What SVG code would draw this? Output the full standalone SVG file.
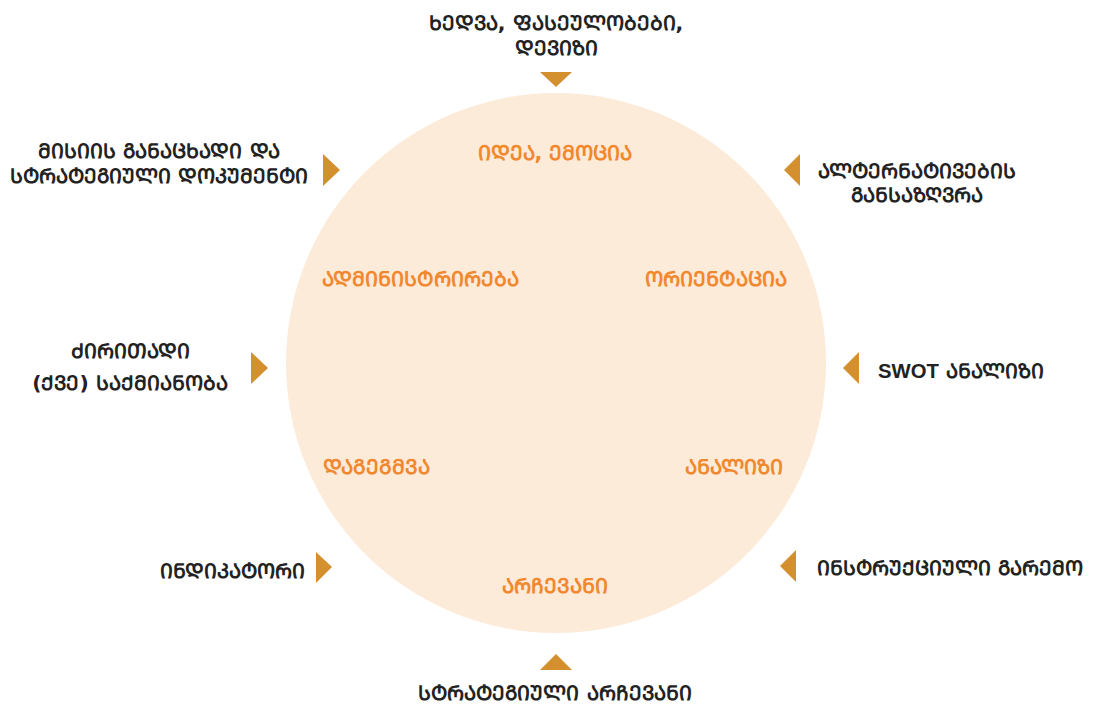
<svg xmlns="http://www.w3.org/2000/svg" width="1093" height="708" viewBox="0 0 1093 708">
<style>
.o{font-family:"DejaVu Sans",sans-serif;font-size:20.3px;font-weight:bold;fill:#222;text-anchor:middle}
.i{font-family:"DejaVu Sans",sans-serif;font-size:20.5px;font-weight:bold;fill:#F2882E;text-anchor:middle}
.t{fill:#D48F2E}
</style>
<rect width="1093" height="708" fill="#fff"/>
<circle id="circle" cx="556" cy="363" r="270" fill="#FDEBDA"/>
<g id="inner">
<text class="i" x="555" y="160">ᲘᲓᲔᲐ, ᲔᲛᲝᲪᲘᲐ</text>
<text class="i" x="420" y="286">ᲐᲓᲛᲘᲜᲘᲡᲢᲠᲘᲠᲔᲑᲐ</text>
<text class="i" x="716" y="286">ᲝᲠᲘᲔᲜᲢᲐᲪᲘᲐ</text>
<text class="i" x="376" y="474">ᲓᲐᲒᲔᲒᲛᲕᲐ</text>
<text class="i" x="734" y="474">ᲐᲜᲐᲚᲘᲖᲘ</text>
<text class="i" x="555" y="593">ᲐᲠᲩᲔᲕᲐᲜᲘ</text>
</g>
<g id="connectors">
<polygon class="t" points="540,72 572,72 556,87"/>
<polygon class="t" points="540,670 572,670 556,654"/>
<polygon class="t" points="323,154 323,186 340,170"/>
<polygon class="t" points="251,352 251,384 268,368"/>
<polygon class="t" points="316,552 316,583 332,567"/>
<polygon class="t" points="800,154 800,186 784,170"/>
<polygon class="t" points="859,352 859,384 843,368"/>
<polygon class="t" points="796,550 796,582 780,566"/>
</g>
<g id="n-vision"><text class="o" x="556" y="30">ᲮᲔᲓᲕᲐ, ᲤᲐᲡᲔᲣᲚᲝᲑᲔᲑᲘ,</text><text class="o" x="556" y="55">ᲓᲔᲕᲘᲖᲘ</text></g>
<g id="n-mission"><text class="o" x="159" y="158">ᲛᲘᲡᲘᲘᲡ ᲒᲐᲜᲐᲪᲮᲐᲓᲘ ᲓᲐ</text><text class="o" x="159" y="183">ᲡᲢᲠᲐᲢᲔᲒᲘᲣᲚᲘ ᲓᲝᲙᲣᲛᲔᲜᲢᲘ</text></g>
<g id="n-alternatives"><text class="o" x="917" y="178">ᲐᲚᲢᲔᲠᲜᲐᲢᲘᲕᲔᲑᲘᲡ</text><text class="o" x="917" y="202">ᲒᲐᲜᲡᲐᲖᲦᲕᲠᲐ</text></g>
<g id="n-activity"><text class="o" x="130" y="358">ᲫᲘᲠᲘᲗᲐᲓᲘ</text><text class="o" x="130" y="390">(ᲥᲕᲔ) ᲡᲐᲥᲛᲘᲐᲜᲝᲑᲐ</text></g>
<g id="n-swot"><text class="o" x="878" y="378" style="text-anchor:start"><tspan style="font-family:'Liberation Sans',sans-serif">SWOT</tspan> ᲐᲜᲐᲚᲘᲖᲘ</text></g>
<g id="n-indicator"><text class="o" x="232" y="578">ᲘᲜᲓᲘᲙᲐᲢᲝᲠᲘ</text></g>
<g id="n-environment"><text class="o" x="950" y="575">ᲘᲜᲡᲢᲠᲣᲥᲪᲘᲣᲚᲘ ᲒᲐᲠᲔᲛᲝ</text></g>
<g id="n-choice"><text class="o" x="555" y="700">ᲡᲢᲠᲐᲢᲔᲒᲘᲣᲚᲘ ᲐᲠᲩᲔᲕᲐᲜᲘ</text></g>
</svg>
